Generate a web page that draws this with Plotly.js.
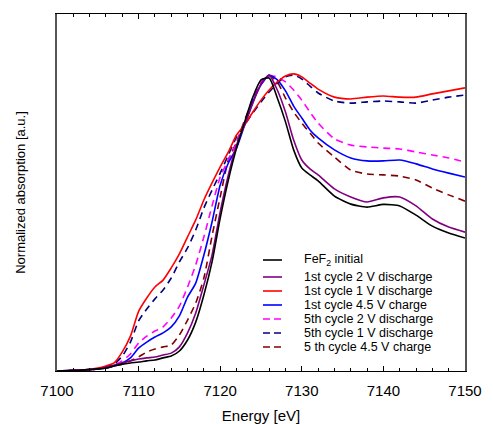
<!DOCTYPE html>
<html>
<head>
<meta charset="utf-8">
<script src="https://cdn.plot.ly/plotly-3.0.1.min.js"></script>
<style>html,body{margin:0;padding:0;background:#fff;}#chart{width:493px;height:424px;}</style>
</head>
<body>
<div id="chart"></div>
<script>
// Energy grid (eV)
const energy = [7100, 7103, 7105, 7106, 7107, 7108, 7109, 7110, 7111, 7112, 7113, 7114, 7115, 7116, 7117, 7118, 7119, 7120, 7121, 7122, 7123, 7124, 7125, 7126, 7127, 7128, 7129, 7130, 7131, 7132, 7134, 7136, 7138, 7140, 7142, 7144, 7146, 7148, 7150];

// Normalized absorption for each spectrum
const feF2Initial = [0, .003, .007, .010, .017, .023, .027, .030, .034, .037, .044, .050, .067, .104, .164, .255, .366, .513, .641, .748, .836, .919, .977, .983, .916, .836, .742, .681, .658, .638, .587, .560, .550, .559, .554, .523, .486, .463, .446];
const c1Dis2V     = [0, .003, .007, .013, .020, .027, .034, .040, .044, .047, .054, .060, .081, .128, .195, .289, .389, .534, .658, .758, .826, .899, .963, .993, .943, .869, .775, .708, .678, .658, .611, .584, .567, .581, .584, .554, .510, .483, .466];
const c1Dis1V     = [0, .003, .010, .017, .027, .064, .117, .200, .245, .282, .305, .346, .393, .450, .507, .574, .631, .685, .735, .792, .826, .869, .909, .943, .970, .990, .997, .987, .966, .946, .919, .913, .919, .923, .919, .919, .930, .940, .950];
const c1Chg45V    = [0, .003, .007, .010, .017, .027, .044, .077, .097, .114, .128, .148, .185, .248, .295, .389, .500, .624, .698, .748, .826, .903, .960, .993, .977, .940, .889, .849, .809, .782, .742, .715, .705, .705, .708, .695, .678, .664, .651];
const c5Dis2V     = [0, .003, .007, .013, .020, .034, .057, .094, .117, .134, .148, .178, .218, .282, .356, .450, .554, .651, .708, .765, .836, .916, .970, .990, .987, .970, .943, .909, .869, .832, .779, .758, .752, .748, .745, .735, .725, .715, .701];
const c5Dis1V     = [0, .003, .007, .013, .023, .050, .097, .168, .208, .242, .272, .312, .366, .413, .473, .547, .607, .664, .725, .785, .826, .866, .903, .936, .966, .987, .993, .980, .956, .933, .906, .899, .903, .906, .903, .899, .909, .919, .926];
const c5Chg45V    = [0, .003, .007, .010, .017, .023, .034, .047, .064, .074, .081, .087, .121, .171, .228, .312, .453, .584, .708, .768, .842, .909, .963, .990, .970, .916, .869, .832, .799, .765, .718, .674, .661, .658, .654, .641, .614, .591, .570];

const seriesLabels = ["FeF<sub>2</sub> initial", "1st cycle 2 V discharge", "1st cycle 1 V discharge", "1st cycle 4.5 V charge", "5th cycle 2 V discharge", "5th cycle 1 V discharge", "5 th cycle 4.5 V charge"];
const xTickValues = [7100, 7110, 7120, 7130, 7140, 7150];

const seriesData = [feF2Initial, c1Dis2V, c1Dis1V, c1Chg45V, c5Dis2V, c5Dis1V, c5Chg45V];
const colors = ["#000000", "#800080", "#ff0000", "#0000ff", "#ff00ff", "#000080", "#800000"];
const dashes = ["solid", "solid", "solid", "solid", "7px,5px", "7px,5px", "7px,5px"];

// draw order: back to front
const order = [6, 4, 3, 5, 2, 1, 0];
const traces = order.map(i => ({
  x: energy, y: seriesData[i], type: "scatter", mode: "lines",
  name: seriesLabels[i], showlegend: false,
  line: {color: colors[i], width: 1.6, dash: dashes[i], shape: "spline", smoothing: 0.6}
}));

const FONT = "Liberation Sans, Arial, sans-serif";
const annotations = [];
const shapes = [];
const plotTop = 14, plotBot = 371, plotL = 57, plotW = 408;
seriesLabels.forEach((lab, i) => {
  const py = i === 0 ? 260 : 277 + (i - 1) * 14;
  const yp = (plotBot - py) / (plotBot - plotTop);
  shapes.push({type: "line", xref: "paper", yref: "paper",
    x0: (263 - plotL) / plotW, x1: (282 - plotL) / plotW, y0: yp, y1: yp,
    line: {color: colors[i], width: 1.6, dash: dashes[i] === "solid" ? "solid" : "7px,4px"}});
  annotations.push({xref: "paper", yref: "paper", x: (302 - plotL) / plotW, y: yp, xanchor: "left", yanchor: "middle",
    text: lab, showarrow: false, font: {family: FONT, size: 12.5, color: "#000"}});
});

const layout = {
  width: 493, height: 424,
  margin: {l: 57, r: 28, t: 14, b: 53},
  paper_bgcolor: "#fff", plot_bgcolor: "#fff",
  font: {family: FONT, size: 14, color: "#000"},
  xaxis: {
    range: [7100, 7150], tickvals: xTickValues, ticktext: xTickValues.map(String),
    ticks: "inside", ticklen: 5, tickwidth: 1, tickcolor: "#000",
    minor: {dtick: 2, tick0: 7100, ticks: "inside", ticklen: 3, tickcolor: "#000"},
    showline: true, linecolor: "#000", linewidth: 1, mirror: "allticks",
    showgrid: false, zeroline: false,
    ticklabelstandoff: 6,
    tickfont: {family: FONT, size: 15, color: "#000"},
    title: {text: "Energy [eV]", font: {family: FONT, size: 15, color: "#000"}, standoff: 17}
  },
  yaxis: {
    range: [0, 1.198], showticklabels: false, ticks: "",
    showline: true, linecolor: "#555", linewidth: 2, mirror: true,
    showgrid: false, zeroline: false,
    title: {text: "Normalized absorption [a.u.]", font: {family: FONT, size: 13, color: "#000"}, standoff: 26}
  },
  showlegend: false,
  annotations: annotations,
  shapes: shapes
};

Plotly.newPlot("chart", traces, layout, {displayModeBar: false, staticPlot: true});
</script>
</body>
</html>
